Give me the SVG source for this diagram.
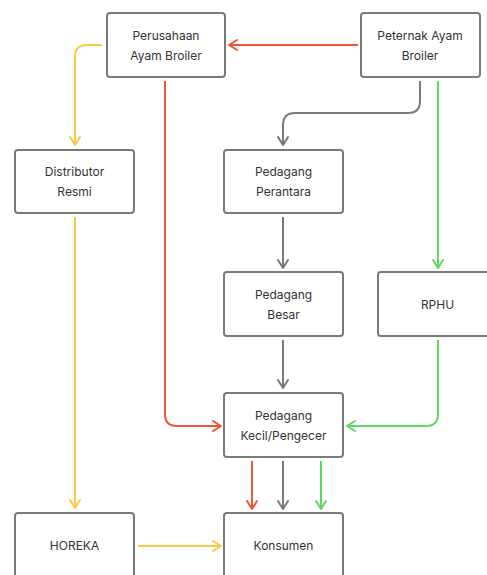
<svg xmlns="http://www.w3.org/2000/svg" width="487" height="575" viewBox="0 0 487 575">
  <defs>
    <marker id="ah-red" viewBox="0 0 12 12" refX="10" refY="6" markerWidth="12" markerHeight="12" markerUnits="userSpaceOnUse" orient="auto">
      <path d="M2,1 L10,6 L2,11" fill="none" stroke="#f0553a" stroke-width="2" stroke-linecap="round" stroke-linejoin="round"/>
    </marker>
    <marker id="ah-gray" viewBox="0 0 12 12" refX="10" refY="6" markerWidth="12" markerHeight="12" markerUnits="userSpaceOnUse" orient="auto">
      <path d="M2,1 L10,6 L2,11" fill="none" stroke="#7a7a7a" stroke-width="2" stroke-linecap="round" stroke-linejoin="round"/>
    </marker>
    <marker id="ah-green" viewBox="0 0 12 12" refX="10" refY="6" markerWidth="12" markerHeight="12" markerUnits="userSpaceOnUse" orient="auto">
      <path d="M2,1 L10,6 L2,11" fill="none" stroke="#5fd862" stroke-width="2" stroke-linecap="round" stroke-linejoin="round"/>
    </marker>
    <marker id="ah-yellow" viewBox="0 0 12 12" refX="10" refY="6" markerWidth="12" markerHeight="12" markerUnits="userSpaceOnUse" orient="auto">
      <path d="M2,1 L10,6 L2,11" fill="none" stroke="#ffc846" stroke-width="2" stroke-linecap="round" stroke-linejoin="round"/>
    </marker>
  </defs>
  <style>
    .box { fill: #ffffff; stroke: #7a7a7a; stroke-width: 2; }
    .lbl { font-family: Inter, "Liberation Sans", sans-serif; font-size: 12px; fill: #333333; text-anchor: middle; }
    .c { fill: none; stroke-width: 2; }
    .red { stroke: #f0553a; marker-end: url(#ah-red); }
    .gray { stroke: #7a7a7a; marker-end: url(#ah-gray); }
    .green { stroke: #5fd862; marker-end: url(#ah-green); }
    .yellow { stroke: #ffc846; marker-end: url(#ah-yellow); }
  </style>
  <rect width="487" height="575" fill="#ffffff"/>

  <g id="connectors">
    <path class="c red" d="M358,45 H229"/>
    <path class="c yellow" d="M102,45 H87 Q75,45 75,57 V145"/>
    <path class="c red" d="M165,81 V414 Q165,426 177,426 H221"/>
    <path class="c gray" d="M420,81 V101 Q420,113 408,113 H295 Q283,113 283,125 V145"/>
    <path class="c green" d="M438,81 V268"/>
    <path class="c gray" d="M283,217 V268"/>
    <path class="c gray" d="M283,340 V388"/>
    <path class="c green" d="M438,340 V414 Q438,426 426,426 H347"/>
    <path class="c yellow" d="M75,217 V508"/>
    <path class="c red" d="M252,461 V509"/>
    <path class="c gray" d="M283,461 V509"/>
    <path class="c green" d="M321,461 V509"/>
    <path class="c yellow" d="M138,546 H221"/>
  </g>

  <g id="perusahaan">
    <rect class="box" x="107" y="13" width="118" height="64" rx="3"/>
    <text class="lbl" x="166" y="40">Perusahaan</text>
    <text class="lbl" x="166" y="60">Ayam Broiler</text>
  </g>
  <g id="peternak">
    <rect class="box" x="361" y="13" width="119" height="64" rx="3"/>
    <text class="lbl" x="420" y="40">Peternak Ayam</text>
    <text class="lbl" x="420" y="60">Broiler</text>
  </g>
  <g id="distributor">
    <rect class="box" x="15" y="150" width="119" height="63" rx="3"/>
    <text class="lbl" x="74.5" y="176">Distributor</text>
    <text class="lbl" x="74.5" y="196">Resmi</text>
  </g>
  <g id="perantara">
    <rect class="box" x="224" y="150" width="119" height="63" rx="3"/>
    <text class="lbl" x="283.5" y="176">Pedagang</text>
    <text class="lbl" x="283.5" y="196">Perantara</text>
  </g>
  <g id="besar">
    <rect class="box" x="224" y="272" width="119" height="64" rx="3"/>
    <text class="lbl" x="283.5" y="299">Pedagang</text>
    <text class="lbl" x="283.5" y="319">Besar</text>
  </g>
  <g id="rphu">
    <rect class="box" x="378" y="272" width="119" height="64" rx="3"/>
    <text class="lbl" x="437.5" y="309">RPHU</text>
  </g>
  <g id="pengecer">
    <rect class="box" x="224" y="393" width="119" height="64" rx="3"/>
    <text class="lbl" x="283.5" y="420">Pedagang</text>
    <text class="lbl" x="283.5" y="440">Kecil/Pengecer</text>
  </g>
  <g id="horeka">
    <rect class="box" x="15" y="513" width="119" height="70" rx="3"/>
    <text class="lbl" x="74.5" y="550">HOREKA</text>
  </g>
  <g id="konsumen">
    <rect class="box" x="224" y="513" width="119" height="70" rx="3"/>
    <text class="lbl" x="283.5" y="550">Konsumen</text>
  </g>
</svg>
